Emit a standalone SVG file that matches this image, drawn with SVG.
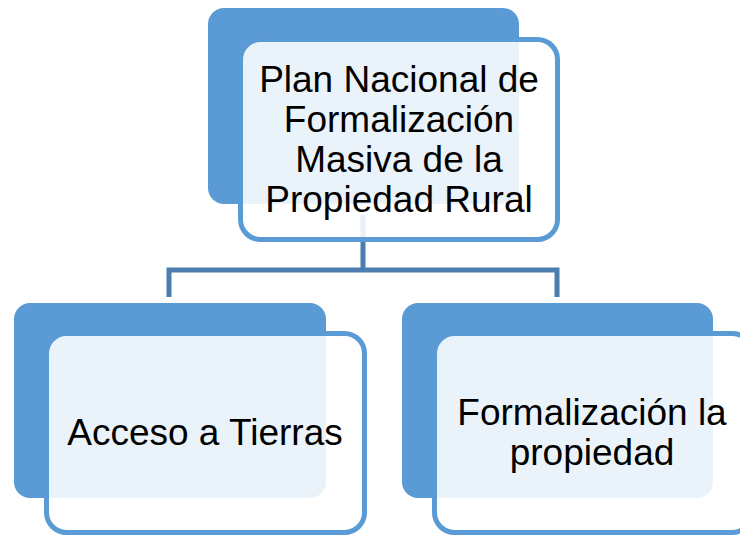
<svg xmlns="http://www.w3.org/2000/svg" width="740" height="535" viewBox="0 0 740 535">
<style>
.back{fill:#5b9bd5}
.front{fill:#ffffff;fill-opacity:0.88;stroke:#5b9bd5;stroke-width:5}
.conn{fill:none;stroke:#4a7eae;stroke-width:5}
text{font-family:"Liberation Sans",Arial,sans-serif;font-size:37px;fill:#000;text-anchor:middle}
</style>
<rect width="740" height="535" fill="#ffffff"/>
<g id="n1-back"><rect class="back" x="208" y="8" width="311" height="196" rx="16"/></g>
<g id="n2-back"><rect class="back" x="14" y="303" width="312" height="195" rx="16"/></g>
<g id="n3-back"><rect class="back" x="402" y="303" width="311" height="195" rx="16"/></g>
<g id="connectors">
<path class="conn" d="M363 215 V270 M169 297 V270 H557 V297"/>
</g>
<g id="n1">
<rect class="front" x="240.5" y="39.5" width="317" height="200" rx="20"/>
<text x="399" y="92">Plan Nacional de</text>
<text x="399" y="132">Formalización</text>
<text x="399" y="172">Masiva de la</text>
<text x="399" y="212">Propiedad Rural</text>
</g>
<g id="n2">
<rect class="front" x="46.5" y="333.5" width="318" height="199" rx="20"/>
<text x="205" y="445">Acceso a Tierras</text>
</g>
<g id="n3">
<rect class="front" x="434.5" y="333.5" width="318" height="199" rx="20"/>
<text x="592" y="425">Formalización la</text>
<text x="592" y="465">propiedad</text>
</g>
</svg>
